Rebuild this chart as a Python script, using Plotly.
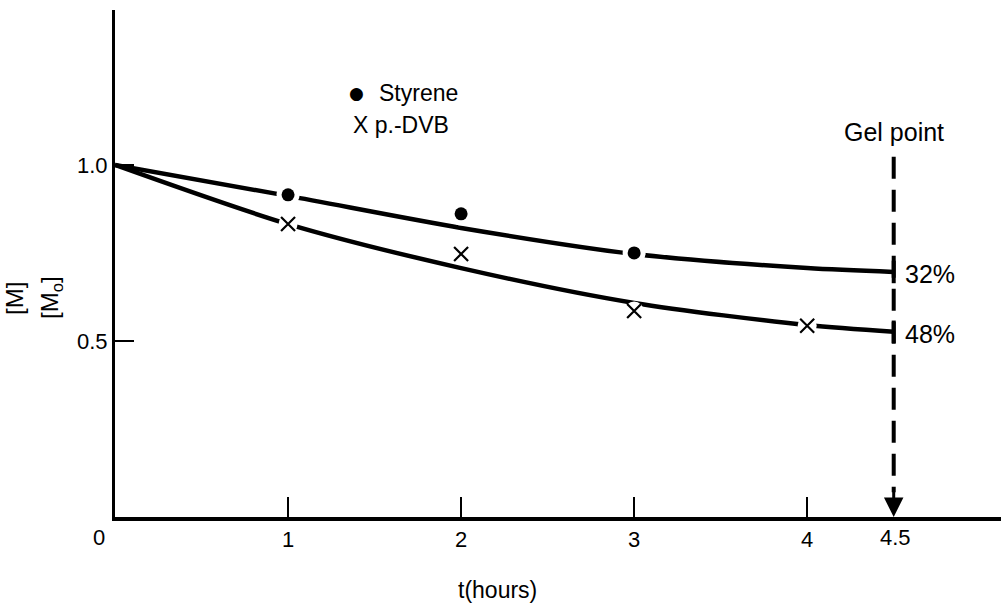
import plotly.graph_objects as go

# Measured data points
sty_t = [1, 2, 3]
sty_y = [0.915, 0.861, 0.750]
dvb_t = [1, 2, 3, 4]
dvb_y = [0.832, 0.747, 0.585, 0.543]

# Fitted curves
curve_t = [0, 1, 2, 3, 4, 4.5]
sty_curve = [1.0, 0.912, 0.821, 0.747, 0.707, 0.696]
dvb_curve = [1.0, 0.832, 0.707, 0.608, 0.545, 0.526]

x_ticks = [1, 2, 3, 4]
y_ticks = [0.5, 1.0]
y_ticklabels = ["0.5", "1.0"]
gel_t = 4.5
pct_labels = ["32%", "48%"]

FONT = "Liberation Sans"
BLACK = "black"
fig = go.Figure()

for cy in (sty_curve, dvb_curve):
    fig.add_trace(go.Scatter(x=curve_t, y=cy, mode="lines",
                             line=dict(color=BLACK, width=4.5, shape="spline", smoothing=0.8),
                             showlegend=False, hoverinfo="skip"))

# white halos that break the curves around the markers
fig.add_trace(go.Scatter(x=sty_t, y=sty_y, mode="markers", showlegend=False, hoverinfo="skip",
                         marker=dict(symbol="circle", size=23, color="white")))
fig.add_trace(go.Scatter(x=dvb_t, y=dvb_y, mode="markers", showlegend=False, hoverinfo="skip",
                         marker=dict(symbol="circle", size=19, color="white")))

fig.add_trace(go.Scatter(x=sty_t, y=sty_y, mode="markers", name="Styrene",
                         marker=dict(symbol="circle", size=13, color=BLACK),
                         showlegend=False))
fig.add_trace(go.Scatter(x=dvb_t, y=dvb_y, mode="markers", name="p.-DVB",
                         marker=dict(symbol="x-thin-open", size=14, color=BLACK,
                                     line=dict(color=BLACK, width=2.2)),
                         showlegend=False))

# Gel point dashed line and arrow
fig.add_shape(type="line", x0=gel_t, x1=gel_t, y0=1.023, y1=0.07,
              line=dict(color=BLACK, width=4, dash="22px,11px"))
fig.add_annotation(x=gel_t, y=0.0, ax=gel_t, ay=0.075, xref="x", yref="y",
                   axref="x", ayref="y", showarrow=True, arrowhead=2,
                   arrowsize=1.3, arrowwidth=3, arrowcolor=BLACK, text="")

# short marks where curves meet the gel line
for yv in [sty_curve[-1], dvb_curve[-1]]:
    fig.add_shape(type="line", x0=gel_t, x1=gel_t, y0=yv - 0.032, y1=yv + 0.032,
                  line=dict(color=BLACK, width=4))

fig.add_annotation(x=gel_t, y=1.094, text="Gel point", showarrow=False,
                   xanchor="center", font=dict(family=FONT, size=25, color=BLACK))
for yv, lab in zip([sty_curve[-1], dvb_curve[-1]], pct_labels):
    fig.add_annotation(x=gel_t, y=yv, text=lab, showarrow=False, xanchor="left",
                       xshift=9, yshift=-2, font=dict(family=FONT, size=25, color=BLACK))

# Legend as text
fig.add_annotation(x=1.393, y=1.2045, text="●", showarrow=False, xanchor="center",
                   font=dict(family="DejaVu Sans", size=17, color=BLACK))
fig.add_annotation(x=1.514, y=1.2045, text="Styrene", showarrow=False, xanchor="left",
                   font=dict(family=FONT, size=23, color=BLACK))
fig.add_annotation(x=1.364, y=1.114, text="X p.-DVB", showarrow=False, xanchor="left",
                   font=dict(family=FONT, size=23, color=BLACK))

# Extra x labels for 0 (outside axis range -> paper coords) and 4.5
fig.add_annotation(x=-0.018, xref="paper", y=0, yref="paper", text="0", showarrow=False,
                   xanchor="center", yanchor="top", yshift=-6,
                   font=dict(family=FONT, size=22, color=BLACK))
fig.add_annotation(x=gel_t, y=0, text="4.5", showarrow=False, yanchor="top", yshift=-6,
                   xshift=2, font=dict(family=FONT, size=22, color=BLACK))

# x axis title
fig.add_annotation(x=0.432, xref="paper", y=-0.144, yref="paper", text="t(hours)",
                   xanchor="center", yanchor="middle",
                   showarrow=False, font=dict(family=FONT, size=23, color=BLACK))
# y axis title (fraction [M]/[Mo], rotated)
fig.add_annotation(x=-0.1129, xref="paper", y=0.432, yref="paper", text="[M]",
                   xanchor="center", yanchor="middle",
                   showarrow=False, textangle=-90,
                   font=dict(family=FONT, size=24, color=BLACK))
fig.add_annotation(x=-0.0711, xref="paper", y=0.432, yref="paper", text="[M<sub>o</sub>]",
                   xanchor="center", yanchor="middle",
                   showarrow=False, textangle=-90,
                   font=dict(family=FONT, size=24, color=BLACK))

fig.update_layout(
    width=1001, height=608,
    margin=dict(l=115, r=0, t=10, b=91),
    plot_bgcolor="white", paper_bgcolor="white",
    xaxis=dict(range=[0, 5.12], showgrid=False, zeroline=False, showline=True,
               linecolor=BLACK, linewidth=3.5, tickvals=x_ticks,
               ticktext=[str(v) for v in x_ticks], ticks="inside", ticklen=20,
               tickwidth=2, tickcolor=BLACK,
               tickfont=dict(family=FONT, size=22, color=BLACK)),
    yaxis=dict(range=[0, 1.44], showgrid=False, zeroline=False, showline=True,
               linecolor=BLACK, linewidth=3, tickvals=y_ticks,
               ticktext=y_ticklabels, ticks="inside", ticklen=19, tickwidth=2,
               tickcolor=BLACK, tickfont=dict(family=FONT, size=22, color=BLACK)),
)

fig.write_html("out.html")
